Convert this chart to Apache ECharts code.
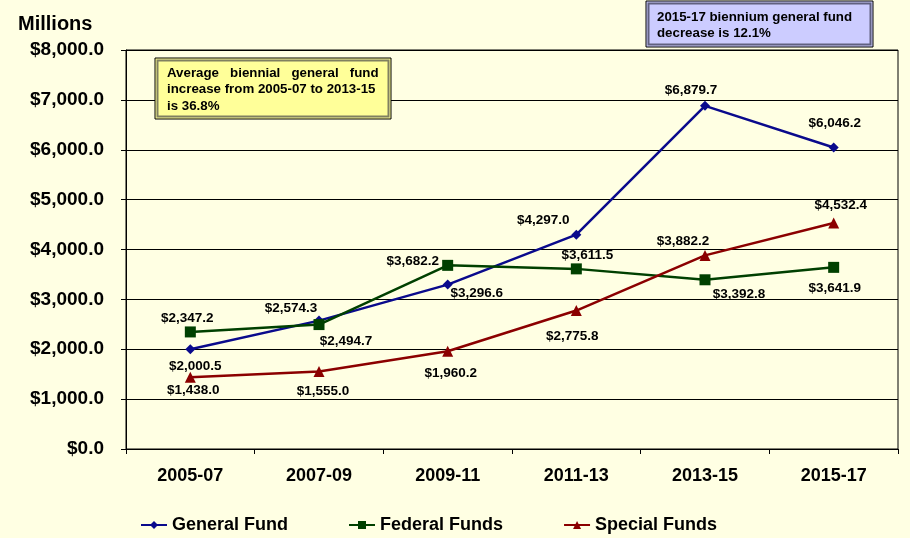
<!DOCTYPE html>
<html>
<head>
<meta charset="utf-8">
<script src="https://cdn.jsdelivr.net/npm/echarts@6/dist/echarts.min.js"></script>
<style>
  html, body { margin: 0; padding: 0; background: #FFFFE3; }
  #main { width: 910px; height: 538px; }
</style>
</head>
<body>
<div id="main"></div>
<script>
var chartDom = document.getElementById('main');
var myChart = echarts.init(chartDom);
var option;

// biennium categories
var biennia = ['2005-07', '2007-09', '2009-11', '2011-13', '2013-15', '2015-17'];

// values in millions
var generalFund = [2000.5, 2574.3, 3296.6, 4297.0, 6879.7, 6046.2];
var federalFunds = [2347.2, 2494.7, 3682.2, 3611.5, 3392.8, 3641.9];
var specialFunds = [1438.0, 1555.0, 1960.2, 2775.8, 3882.2, 4532.4];

// label offsets (px from the point)
var generalOffsets = [[5, 17], [-28, -12], [29, 9], [-33, -14], [-14, -16], [1, -24]];
var federalOffsets = [[-3, -14], [27, 17], [-35, -4], [11, -14], [34, 14], [1, 21]];
var specialOffsets = [[3, 13], [4, 20], [3, 22], [-4, 26], [-22, -14], [7, -18]];

var FONT = 'Liberation Sans, Arial, sans-serif';

function money(v) {
    return '$' + Number(v).toLocaleString('en-US', { minimumFractionDigits: 1, maximumFractionDigits: 1 });
}

function buildData(values, offsets) {
    return values.map(function (v, i) {
        return {
            value: v,
            label: { offset: offsets[i] }
        };
    });
}

function makeSeries(name, values, offsets, color, symbol, size) {
    return {
        name: name,
        type: 'line',
        data: buildData(values, offsets),
        symbol: symbol,
        symbolSize: size,
        lineStyle: { color: color, width: 2.5 },
        itemStyle: { color: color },
        label: {
            show: true,
            position: 'inside',
            formatter: function (d) { return money(d.value); },
            color: '#000',
            fontSize: 13.5,
            fontWeight: 'bold',
            fontFamily: FONT
        },
        emphasis: { disabled: true },
        animation: false
    };
}

option = {
    backgroundColor: '#FFFFE3',
    grid: {
        left: 126,
        right: 12,
        top: 50,
        bottom: 89,
        show: true,
        borderColor: '#000',
        borderWidth: 1,
        backgroundColor: 'transparent'
    },
    legend: {
        left: 135,
        top: 511,
        itemWidth: 26,
        itemHeight: 10,
        itemGap: 60,
        textStyle: { fontSize: 18, fontWeight: 'bold', color: '#000', fontFamily: FONT },
        data: ['General Fund', 'Federal Funds', 'Special Funds']
    },
    xAxis: {
        type: 'category',
        data: biennia,
        boundaryGap: true,
        axisLine: { lineStyle: { color: '#000', width: 1 } },
        axisTick: { show: true, length: 5, lineStyle: { color: '#000' } },
        axisLabel: {
            margin: 18,
            color: '#000',
            fontSize: 18,
            fontWeight: 'bold',
            fontFamily: FONT
        }
    },
    yAxis: {
        type: 'value',
        min: 0,
        max: 8000,
        interval: 1000,
        name: 'Millions',
        nameLocation: 'end',
        nameGap: 0,
        nameTextStyle: {
            fontSize: 20,
            fontWeight: 'bold',
            color: '#000',
            fontFamily: FONT,
            align: 'left',
            padding: [0, 0, 16, -108]
        },
        axisLine: { show: true, lineStyle: { color: '#000' } },
        axisTick: { show: true, length: 5, lineStyle: { color: '#000' } },
        splitLine: { show: true, lineStyle: { color: '#000', width: 1 } },
        axisLabel: {
            margin: 22,
            color: '#000',
            fontSize: 19,
            fontWeight: 'bold',
            fontFamily: FONT,
            formatter: function (v) { return money(v); }
        }
    },
    graphic: [
        // yellow note box
        {
            type: 'rect',
            shape: { x: 155, y: 58, width: 236, height: 61 },
            style: { fill: '#FFFF99', stroke: '#000', lineWidth: 1 },
            z: 100
        },
        {
            type: 'rect',
            shape: { x: 157.5, y: 60.5, width: 231, height: 56 },
            style: { fill: 'none', stroke: '#808060', lineWidth: 2 },
            z: 101
        },
        {
            type: 'text',
            left: 167,
            top: 65,
            z: 102,
            style: {
                text: 'Average   biennial   general   fund\nincrease from 2005-07 to 2013-15\nis 36.8%',
                font: 'bold 13.3px ' + FONT,
                fill: '#000',
                lineHeight: 16.5
            }
        },
        // purple note box
        {
            type: 'rect',
            shape: { x: 646, y: 1, width: 227, height: 46 },
            style: { fill: '#CCCCFF', stroke: '#000', lineWidth: 1 },
            z: 100
        },
        {
            type: 'rect',
            shape: { x: 648.5, y: 3.5, width: 222, height: 41 },
            style: { fill: 'none', stroke: '#606080', lineWidth: 2 },
            z: 101
        },
        {
            type: 'text',
            left: 657,
            top: 9,
            z: 102,
            style: {
                text: '2015-17 biennium general fund\ndecrease is 12.1%',
                font: 'bold 13.3px ' + FONT,
                fill: '#000',
                lineHeight: 16.5
            }
        }
    ],
    series: [
        makeSeries('General Fund', generalFund, generalOffsets, '#0A0A8C', 'diamond', 10),
        makeSeries('Federal Funds', federalFunds, federalOffsets, '#004000', 'rect', 11),
        makeSeries('Special Funds', specialFunds, specialOffsets, '#8B0000', 'triangle', 11)
    ]
};

option && myChart.setOption(option);
</script>
</body>
</html>
